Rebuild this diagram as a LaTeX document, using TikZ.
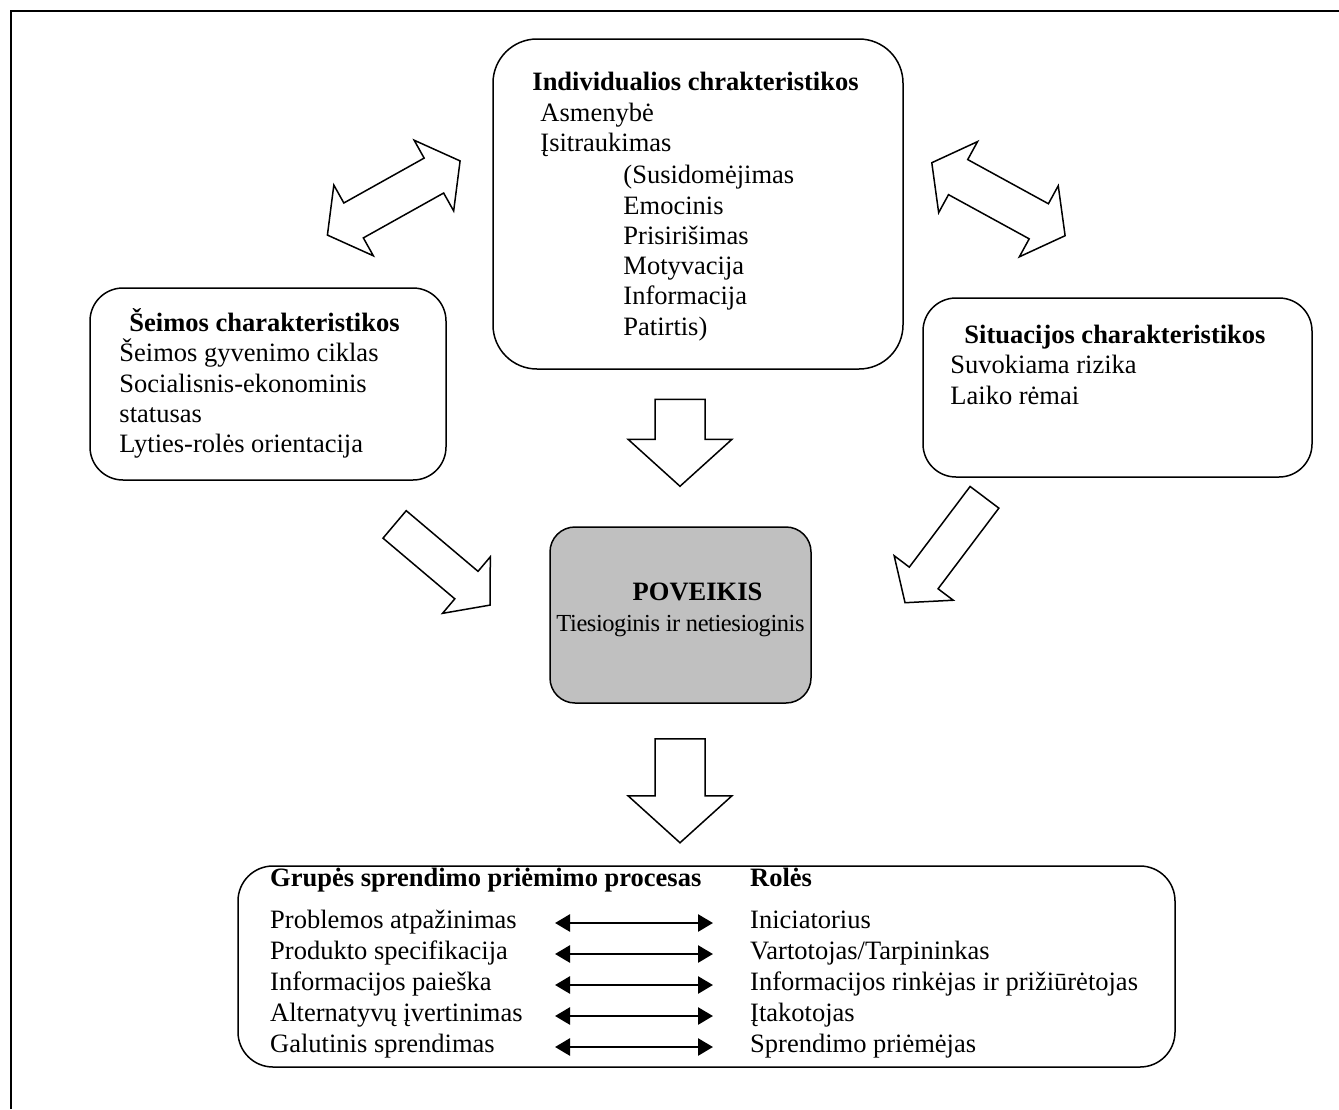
\documentclass[tikz,border=0pt]{standalone}
\usepackage{fontspec}
\setmainfont{Liberation Serif}
\usetikzlibrary{positioning, calc, arrows.meta}

\definecolor{povgray}{RGB}{192,192,192}

\tikzset{
  box/.style={draw, line width=1.5pt, rounded corners=#1, inner sep=0pt},
  box/.default=33pt,
  txt/.style={inner sep=0pt, align=left, font=\fontsize{26.5}{30.3}\selectfont},
  fatarrow/.style={draw, fill=white, line width=1.5pt, line join=miter},
  twoway/.style={{Triangle[length=15pt,width=17pt]}-{Triangle[length=15pt,width=17pt]}, line width=2.7pt},
  % block arrow with one head: length, half shaft, half head, head length
  pics/onehead/.style n args={4}{code={
    \draw[fatarrow] ({-#1/2},{-#2}) -- ({#1/2-#4},{-#2}) -- ({#1/2-#4},{-#3}) -- ({#1/2},0)
      -- ({#1/2-#4},{#3}) -- ({#1/2-#4},{#2}) -- ({-#1/2},{#2}) -- cycle;
  }},
  % block arrow with two heads
  pics/twohead/.style n args={4}{code={
    \draw[fatarrow] ({-#1/2},0) -- ({-#1/2+#4},{#3}) -- ({-#1/2+#4},{#2}) -- ({#1/2-#4},{#2})
      -- ({#1/2-#4},{#3}) -- ({#1/2},0) -- ({#1/2-#4},{-#3}) -- ({#1/2-#4},{-#2})
      -- ({-#1/2+#4},{-#2}) -- ({-#1/2+#4},{-#3}) -- cycle;
  }},
}

\begin{document}
\begin{tikzpicture}[x=1pt, y=-1pt]
  \useasboundingbox (0,0) rectangle (1339,1109);

  % frame
  \draw[line width=2pt] (11,1109) -- (11,11) -- (1339,11);

  % boxes
  \node[box=44pt, minimum width=410pt, minimum height=330pt] (indiv) at (698,204) {};
  \node[box, minimum width=356pt, minimum height=192pt] (seima) at (268,384) {};
  \node[box, minimum width=389pt, minimum height=179pt] (situacija) at (1117.5,387.5) {};
  \node[box=25pt, fill=povgray, minimum width=261pt, minimum height=176pt] (poveikis) at (680.5,615) {};
  \node[box=35pt, minimum width=937pt, minimum height=201pt] (grupe) at (706.5,966.5) {};

  % box texts
  \node[txt, anchor=north west] (indivtxt) at ($(indiv.north west)+(40,34)$) {%
    \textbf{Individualios chrakteristikos}\\
    \hspace*{8pt}Asmenybė\\
    \hspace*{8pt}Įsitraukimas\\[2pt]
    \hspace*{91pt}(Susidomėjimas\\
    \hspace*{91pt}Emocinis\\
    \hspace*{91pt}Prisirišimas\\
    \hspace*{91pt}Motyvacija\\
    \hspace*{91pt}Informacija\\
    \hspace*{91pt}Patirtis)};
  \node[txt, anchor=north west] (seimatxt) at ($(seima.north west)+(30,21)$) {%
    \hspace*{10pt}\textbf{Šeimos charakteristikos}\\
    Šeimos gyvenimo ciklas\\
    Socialisnis-ekonominis\\
    statusas\\
    Lyties-rolės orientacija};
  \node[txt, anchor=north west] (situacijatxt) at ($(situacija.north west)+(28,27.7)$) {%
    \hspace*{14pt}\textbf{Situacijos charakteristikos}\\
    Suvokiama rizika\\
    Laiko rėmai};
  \node[txt, align=center, anchor=north] (poveikistxt) at ($(poveikis.north)+(0,56)$) {%
    \hspace*{34pt}\textbf{POVEIKIS}\\[0.7pt]
    {\fontsize{24.5}{30.3}\selectfont\addfontfeatures{LetterSpace=-1.8}Tiesioginis ir netiesioginis}};

  % bottom table
  \node[txt, anchor=base west] (prochead) at (270,886) {\textbf{Grupės sprendimo priėmimo procesas}};
  \node[txt, anchor=base west] (rolehead) at (750,886) {\textbf{Rolės}};

  \node[txt, anchor=base west] (step1) at (270,928) {Problemos atpažinimas};
  \node[txt, anchor=base west] (role1) at (750,928) {Iniciatorius};
  \node[txt, anchor=base west] (step2) at (270,959) {Produkto specifikacija};
  \node[txt, anchor=base west] (role2) at (750,959) {Vartotojas/Tarpininkas};
  \node[txt, anchor=base west] (step3) at (270,990) {Informacijos paieška};
  \node[txt, anchor=base west] (role3) at (750,990) {Informacijos rinkėjas ir prižiūrėtojas};
  \node[txt, anchor=base west] (step4) at (270,1021) {Alternatyvų įvertinimas};
  \node[txt, anchor=base west] (role4) at (750,1021) {Įtakotojas};
  \node[txt, anchor=base west] (step5) at (270,1052) {Galutinis sprendimas};
  \node[txt, anchor=base west] (role5) at (750,1052) {Sprendimo priėmėjas};

  \foreach \i in {1,...,5}
    \draw[twoway] ($(step\i.base west)+(285,-5)$) -- ($(role\i.base west)+(-37,-5)$);

  % block arrows
  \pic[rotate=29.2] at ($(indiv.west)+(-98.5,-6)$) {twohead={152}{20}{40.5}{30}};
  \pic[rotate=-28.7] at ($(indiv.east)+(94.7,-4.8)$) {twohead={152}{20}{40.5}{30}};
  \pic[rotate=-90] at ($(poveikis.north)+(-0.5,-83.5)$) {onehead={87}{25}{52}{47}};
  \pic[rotate=-40.2] at ($(poveikis.west)+(-106.9,-50.25)$) {onehead={125}{18}{37}{31}};
  \pic[rotate=-127] at ($(poveikis.east)+(133,-65)$) {onehead={132}{18}{37}{31}};
  \pic[rotate=-90] at ($(poveikis.south)+(-0.5,87)$) {onehead={104}{25}{52}{47}};
\end{tikzpicture}
\end{document}
